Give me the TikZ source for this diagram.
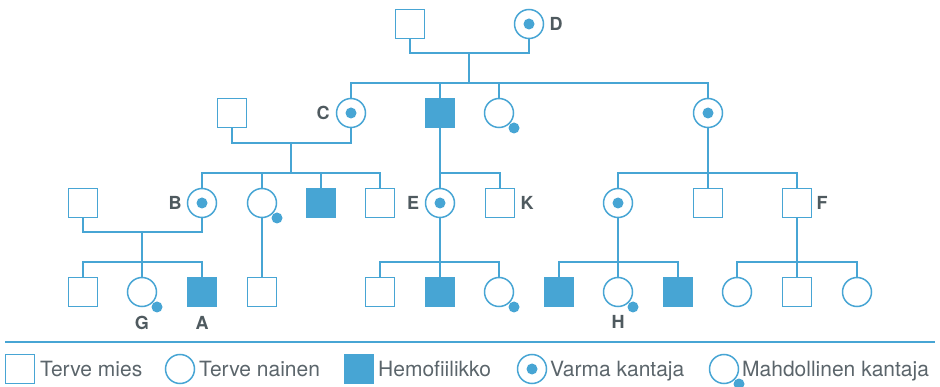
\documentclass[tikz,border=0pt]{standalone}
\usepackage{fontspec}
\setmainfont[Ligatures=NoCommon]{TeX Gyre Heros}
\usetikzlibrary{calc}
\definecolor{pedblue}{HTML}{47A5D4}
\definecolor{labelgray}{HTML}{4F5A5F}
\definecolor{textgray}{HTML}{5B656B}
\tikzset{
  person/.style={draw=pedblue, line width=1.5pt, inner sep=0pt, fill=white, minimum size=29pt},
  male/.style={person, rectangle},
  female/.style={person, circle},
  affected/.style={male, fill=pedblue},
  carrier/.style={female, path picture={\fill[pedblue] (path picture bounding box.center) circle (5.5pt);}},
  link/.style={draw=pedblue, line width=1.5pt},
  tag/.style={font=\bfseries\fontsize{18}{18}\selectfont, text=labelgray, inner sep=0pt},
  legendtext/.style={font=\fontsize{21}{21}\selectfont, text=textgray, inner sep=0pt, anchor=base west},
  maybedot/.style={fill=pedblue},
}
\begin{document}
\begin{tikzpicture}[x=1pt, y=-1pt]
\useasboundingbox (0,0) rectangle (940,387);

% generation I
\node[male]    (m1) at (410,24) {};
\node[carrier] (d)  at (529,24) {};
\node[tag] at (556,24) {D};

% generation II
\node[male]     (m2) at (232,113) {};
\node[carrier]  (c)  at (351,113) {};
\node[tag] at (323,113) {C};
\node[affected] (h2) at (440,113) {};
\node[female]   (p2) at (499,113) {};
\node[carrier]  (r2) at (708,113) {};

% generation III
\node[male]     (m3) at (83,203) {};
\node[carrier]  (b)  at (202,203) {};
\node[tag] at (175,203) {B};
\node[female]   (p3) at (262,203) {};
\node[affected] (a3) at (321,203) {};
\node[male]     (s3) at (380,203) {};
\node[carrier]  (e)  at (440,203) {};
\node[tag] at (413,203) {E};
\node[male]     (k)  at (500,203) {};
\node[tag] at (527,203) {K};
\node[carrier]  (r3) at (618,203) {};
\node[male]     (t3) at (708,203) {};
\node[male]     (f)  at (797,203) {};
\node[tag] at (822,203) {F};

% generation IV
\node[male]     (u1)  at (83,292) {};
\node[female]   (g)   at (142,292) {};
\node[affected] (a)   at (202,292) {};
\node[tag] at (142,323) {G};
\node[tag] at (202,323) {A};
\node[male]     (u2)  at (262,292) {};
\node[male]     (u3)  at (380,292) {};
\node[affected] (u4)  at (440,292) {};
\node[female]   (u5)  at (499,292) {};
\node[affected] (u6)  at (559,292) {};
\node[female]   (hh)  at (618,292) {};
\node[tag] at (618,322) {H};
\node[affected] (u7)  at (678,292) {};
\node[female]   (u8)  at (737,292) {};
\node[male]     (u9)  at (797,292) {};
\node[female]   (u10) at (857,292) {};

% couple and sibship junctions
\coordinate (j1) at (469,53);  \coordinate (b1) at (469,83);
\coordinate (j2) at (291,143); \coordinate (b2) at (291,173);
\coordinate (b3) at (440,173);
\coordinate (b4) at (708,173);
\coordinate (j5) at (142,232); \coordinate (b5) at (142,262);
\coordinate (b7) at (440,262);
\coordinate (b8) at (618,262);
\coordinate (b9) at (797,262);

% family of m1 and D
\draw[link] (m1.south) |- (j1) -| (d.south);
\draw[link] (j1) -- (b1);
\draw[link] (c.north) |- (b1) -| (r2.north);
\draw[link] (h2.north) -- (h2.north |- b1);
\draw[link] (p2.north) -- (p2.north |- b1);

% family of m2 and C
\draw[link] (m2.south) |- (j2) -| (c.south);
\draw[link] (j2) -- (b2);
\draw[link] (b.north) |- (b2) -| (s3.north);
\draw[link] (p3.north) -- (p3.north |- b2);
\draw[link] (a3.north) -- (a3.north |- b2);

% children of the affected son
\draw[link] (h2.south) -- (e.north);
\draw[link] (b3) -| (k.north);

% children of the right-hand daughter
\draw[link] (r2.south) -- (t3.north);
\draw[link] (r3.north) |- (b4) -| (f.north);

% family of m3 and B
\draw[link] (m3.south) |- (j5) -| (b.south);
\draw[link] (j5) -- (g.north);
\draw[link] (u1.north) |- (b5) -| (a.north);

% child of the possible carrier
\draw[link] (p3.south) -- (u2.north);

% children of E
\draw[link] (e.south) -- (u4.north);
\draw[link] (u3.north) |- (b7) -| (u5.north);

% children of the carrier daughter
\draw[link] (r3.south) -- (hh.north);
\draw[link] (u6.north) |- (b8) -| (u7.north);

% children of F
\draw[link] (f.south) -- (u9.north);
\draw[link] (u8.north) |- (b9) -| (u10.north);

% legend
\coordinate (l0) at (5,342);
\coordinate (l1) at (935,342);
\draw[draw=pedblue, line width=2pt] (l0) -- (l1);
\node[male]     (lm) at (20,369) {};
\node[legendtext] at (40,376) {Terve mies};
\node[female]   (lf) at (180,369) {};
\node[legendtext] at (199,376) {Terve nainen};
\node[affected] (la) at (359,369) {};
\node[legendtext] at (378,376) {Hemofiilikko};
\node[carrier]  (lc) at (532,369) {};
\node[legendtext] at (550,376) {Varma kantaja};
\node[female]   (lp) at (724,369) {};
\node[legendtext] at (742,376) {Mahdollinen kantaja};

% dots marking possible carriers
\foreach \n in {p2,p3,g,u5,hh,lp}
  \fill[maybedot] ($(\n.center)+(15,15)$) circle (5.5pt);
\end{tikzpicture}
\end{document}
